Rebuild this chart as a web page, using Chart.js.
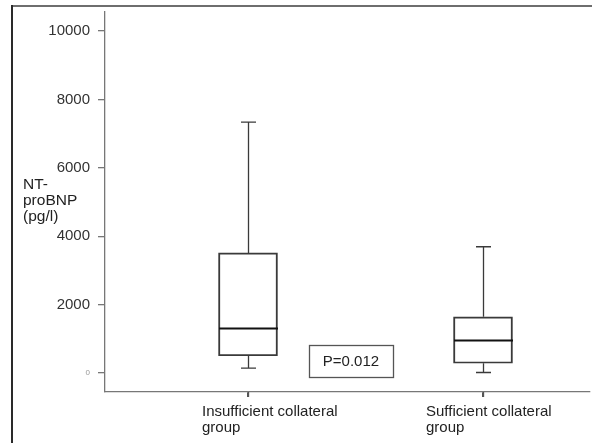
<!DOCTYPE html>
<html>
<head>
<meta charset="utf-8">
<script src="https://cdn.jsdelivr.net/npm/chart.js@4/dist/chart.umd.min.js"></script>
<style>
html,body{margin:0;padding:0;background:#fff;}
canvas{display:block;}
</style>
</head>
<body>
<canvas id="c" width="592" height="443"></canvas>
<script>
const categories = [['Insufficient collateral', 'group'], ['Sufficient collateral', 'group']];
const groupPos = [1, 2];
const whiskerLow = [140, 10];
const q1 = [500, 280];
const median = [1300, 950];
const q3 = [3510, 1640];
const whiskerHigh = [7340, 3690];
const yTicks = [0, 2000, 4000, 6000, 8000, 10000];
const yTitle = ['NT-', 'proBNP', '(pg/l)'];
const pText = 'P=0.012';

const FONT = '"Liberation Sans", Arial, sans-serif';

const boxPlugin = {
  id: 'boxExtras',
  beforeDraw(chart) {
    const ctx = chart.ctx;
    ctx.save();
    ctx.fillStyle = '#fff';
    ctx.fillRect(0, 0, chart.width, chart.height);
    ctx.strokeStyle = '#6e6e6e';
    ctx.lineWidth = 2;
    ctx.beginPath();
    ctx.moveTo(11, 6); ctx.lineTo(592, 6);
    ctx.stroke();
    ctx.strokeStyle = '#2a2a2a';
    ctx.beginPath();
    ctx.moveTo(12, 5); ctx.lineTo(12, 443);
    ctx.stroke();
    ctx.restore();
  },
  afterDatasetsDraw(chart) {
    const ctx = chart.ctx;
    const xs = chart.scales.x, ys = chart.scales.y;
    const area = chart.chartArea;
    ctx.save();
    ctx.lineCap = 'butt';
    for (let i = 0; i < groupPos.length; i++) {
      const cx = Math.round(xs.getPixelForValue(groupPos[i])) + 0.5;
      const yHi = ys.getPixelForValue(whiskerHigh[i]);
      const yQ3 = ys.getPixelForValue(q3[i]);
      const yQ1 = ys.getPixelForValue(q1[i]);
      const yLo = ys.getPixelForValue(whiskerLow[i]);
      const yMed = ys.getPixelForValue(median[i]);
      ctx.strokeStyle = '#3a3a3a';
      ctx.lineWidth = 1.3;
      ctx.beginPath();
      ctx.moveTo(cx, yHi); ctx.lineTo(cx, yQ3);
      ctx.moveTo(cx, yQ1); ctx.lineTo(cx, yLo);
      ctx.moveTo(cx - 7.5, yHi); ctx.lineTo(cx + 7.5, yHi);
      ctx.moveTo(cx - 7.5, yLo); ctx.lineTo(cx + 7.5, yLo);
      ctx.stroke();
      ctx.strokeStyle = '#111';
      ctx.lineWidth = 2;
      ctx.beginPath();
      ctx.moveTo(cx - 29.5, yMed); ctx.lineTo(cx + 29.5, yMed);
      ctx.stroke();
      ctx.strokeStyle = '#555';
      ctx.lineWidth = 1.3;
      ctx.beginPath();
      ctx.moveTo(cx, area.bottom); ctx.lineTo(cx, area.bottom + 5);
      ctx.stroke();
    }
    const px = xs.getPixelForValue(1.438);
    const py = ys.getPixelForValue(350);
    ctx.strokeStyle = '#555';
    ctx.lineWidth = 1.3;
    ctx.strokeRect(Math.round(px - 42) + 0.5, Math.round(py - 16) + 0.5, 84, 32);
    ctx.fillStyle = '#222';
    ctx.font = '15px ' + FONT;
    ctx.textAlign = 'center';
    ctx.textBaseline = 'middle';
    ctx.fillText(pText, px, py + 0.5);
    ctx.textAlign = 'left';
    ctx.textBaseline = 'alphabetic';
    ctx.font = '15.5px ' + FONT;
    const tY = [189, 205, 221];
    yTitle.forEach((t, k) => ctx.fillText(t, 23, tY[k]));
    ctx.font = '15px ' + FONT;
    const offs = [-46, -57];
    for (let i = 0; i < groupPos.length; i++) {
      const cx = xs.getPixelForValue(groupPos[i]);
      categories[i].forEach((t, k) => ctx.fillText(t, cx + offs[i], 415.5 + k * 16));
    }
    ctx.restore();
  }
};

new Chart(document.getElementById('c'), {
  type: 'bar',
  data: {
    datasets: [{
      data: groupPos.map((x, i) => ({ x: x, y: [q1[i], q3[i]] })),
      backgroundColor: 'rgba(255,255,255,0)',
      borderColor: '#3a3a3a',
      borderWidth: 1.3,
      borderSkipped: false,
      barThickness: 59
    }]
  },
  options: {
    responsive: false,
    animation: false,
    events: [],
    layout: { padding: { top: 12, right: 2, left: 0, bottom: 0 } },
    plugins: { legend: { display: false }, tooltip: { enabled: false } },
    scales: {
      x: {
        type: 'linear',
        offset: false,
        min: 0.3915,
        max: 2.4553,
        afterBuildTicks(s) { s.ticks = groupPos.map(v => ({ value: v })); },
        afterFit(s) { s.height = 51; s.paddingLeft = 0; s.paddingRight = 0; },
        grid: { offset: false, drawOnChartArea: false, drawTicks: true, tickLength: 5, color: '#555', lineWidth: 1.3 },
        border: { display: true, color: '#777', width: 1.3 },
        ticks: { display: false }
      },
      y: {
        type: 'linear',
        min: -560,
        max: 10560,
        afterBuildTicks(s) { s.ticks = yTicks.map(v => ({ value: v })); },
        afterFit(s) { s.width = 105; s.paddingTop = 0; s.paddingBottom = 0; },
        grid: { drawOnChartArea: false, drawTicks: true, tickLength: 7, color: '#777', lineWidth: 1.3 },
        border: { display: true, color: '#777', width: 1.3 },
        ticks: {
          padding: 8,
          color: ctx => ctx.tick && ctx.tick.value === 0 ? '#999' : '#333',
          font: ctx => ({ family: FONT, size: ctx.tick && ctx.tick.value === 0 ? 8 : 15 }),
          callback: v => String(v)
        }
      }
    }
  },
  plugins: [boxPlugin]
});
</script>
</body>
</html>
